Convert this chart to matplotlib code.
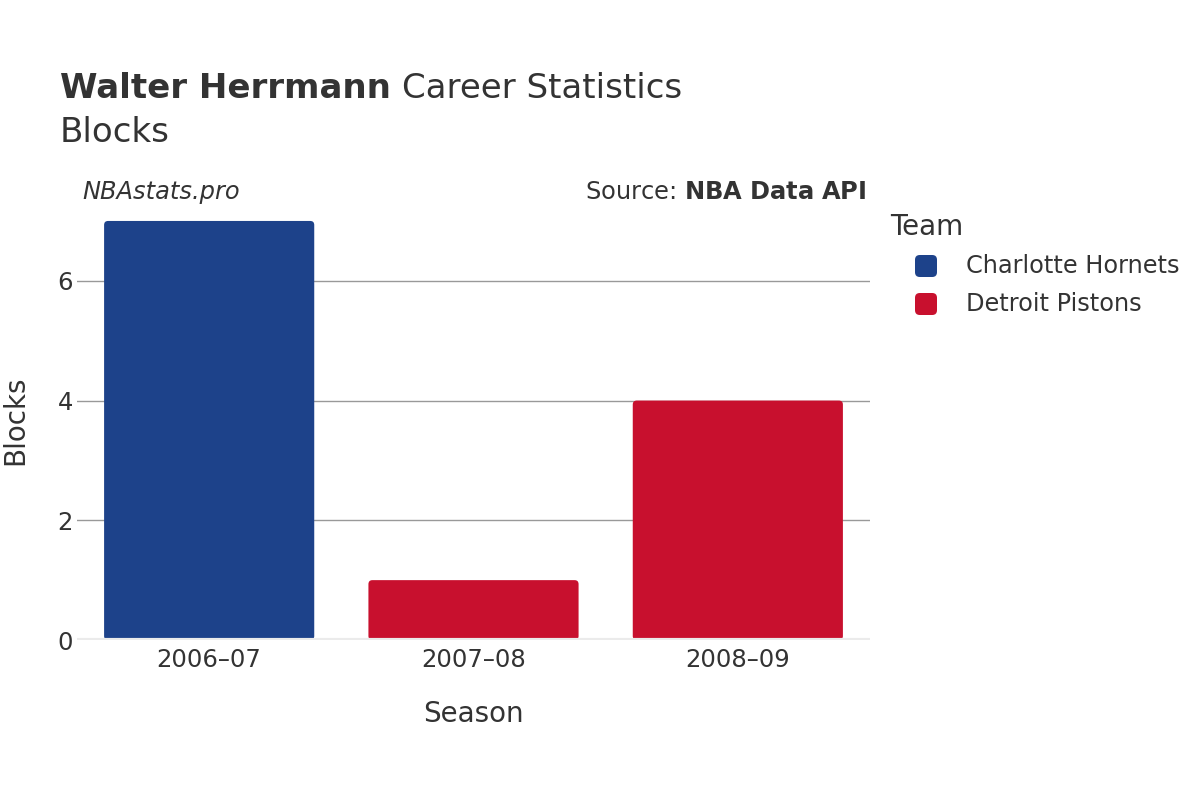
import numpy as np
import matplotlib.pyplot as plt
from matplotlib.patches import FancyBboxPatch

seasons = ['2006–07', '2007–08', '2008–09']
blocks = [7, 1, 4]
teams = ['Charlotte Hornets', 'Detroit Pistons', 'Detroit Pistons']
team_names = ['Charlotte Hornets', 'Detroit Pistons']
team_colors = {'Charlotte Hornets': '#1D428A', 'Detroit Pistons': '#C8102E'}

txt = '#333333'
plt.rcParams['font.family'] = ['DejaVu Sans']

fig = plt.figure(figsize=(12, 8), dpi=100)
ax = fig.add_axes([77 / 1200, 160 / 800, 793 / 1200, 440 / 800])

x = np.arange(len(seasons))
bars = ax.bar(x, blocks, width=0.795, color=[team_colors[t] for t in teams])

ax.set_xlim(-0.5, 2.5)
ax.set_ylim(0, 7.35)

# swap the plain rectangles for rounded ones
px_x = 793 / 3.0
px_y = 440 / 7.35
r = 4 / px_x
for b in bars:
    fb = FancyBboxPatch((b.get_x(), b.get_y()), b.get_width(), b.get_height(),
                        boxstyle='round,pad=0,rounding_size=%f' % r,
                        mutation_aspect=px_x / px_y,
                        facecolor=b.get_facecolor(), edgecolor='none', zorder=2)
    b.remove()
    ax.add_patch(fb)

ax.set_yticks([0, 2, 4, 6])
ax.yaxis.grid(True, color='#999999', linewidth=1)
ax.set_axisbelow(True)
ax.axhline(0, color='#ebebeb', linewidth=3, zorder=3)
for s in ax.spines.values():
    s.set_visible(False)
ax.set_xticks(x)
ax.set_xticklabels(seasons)
ax.tick_params(axis='both', length=0, labelsize=17.5, labelcolor=txt)
ax.tick_params(axis='x', pad=6)
ax.tick_params(axis='y', pad=3)

ax.set_xlabel('Season', fontsize=20, color=txt, labelpad=20)
ax.set_ylabel('Blocks', fontsize=20, color=txt, labelpad=20)

title = fig.text(60 / 1200, 1 - 88 / 800, 'Walter Herrmann', fontsize=24.5, fontweight='bold',
                 color=txt, va='center')
fig.canvas.draw()
bb = title.get_window_extent(renderer=fig.canvas.get_renderer())
fig.text((bb.x1 + 11) / 1200, 1 - 88 / 800, 'Career Statistics', fontsize=24.5,
         color=txt, va='center')
fig.text(60 / 1200, 1 - 132 / 800, 'Blocks', fontsize=24.5, color=txt, va='center')

fig.text(82 / 1200, 1 - 192 / 800, 'NBAstats.pro', fontsize=17.4, style='italic',
         color=txt, va='center')
fig.text(866 / 1200, 1 - 192 / 800, r'Source: $\bf{NBA\ Data\ API}$', fontsize=17.4,
         color=txt, va='center', ha='right')

fig.text(890 / 1200, 1 - 227 / 800, 'Team', fontsize=20, color=txt, va='center')
for i, t in enumerate(team_names):
    yc = 266 + i * 38
    fig.patches.append(FancyBboxPatch((915 / 1200, 1 - (yc + 11) / 800), 22 / 1200, 22 / 800,
                                      boxstyle='round,pad=0,rounding_size=0.004',
                                      mutation_aspect=1.5,
                                      transform=fig.transFigure, facecolor=team_colors[t],
                                      edgecolor='none'))
    fig.text(966 / 1200, 1 - yc / 800, t, fontsize=17.3, color=txt, va='center')

fig.savefig('out.png', dpi=100)
